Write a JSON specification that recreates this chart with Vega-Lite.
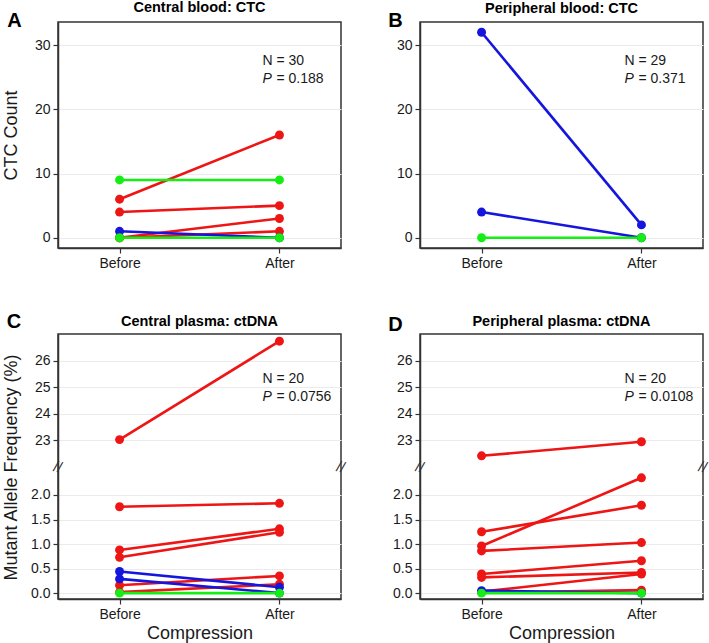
{
  "$schema": "https://vega.github.io/schema/vega-lite/v6.json",
  "padding": {"left": 1, "top": -1, "right": 0, "bottom": 0},
  "columns": 2,
  "align": "each",
  "bounds": "flush",
  "spacing": {"row": 86, "column": 79},
  "config": {
    "font": "Liberation Sans",
    "view": {"stroke": "#333333", "strokeWidth": 1.5},
    "axis": {"labelFont": "Liberation Sans", "labelFontSize": 14, "labelColor": "#1a1a1a", "tickColor": "#333333", "tickSize": 5, "tickWidth": 1.2, "domainColor": "#333333", "domainWidth": 1.5, "gridColor": "#ebebeb", "gridWidth": 1, "titleFont": "Liberation Sans", "titleFontWeight": "normal", "titleFontSize": 18, "titleColor": "#1a1a1a", "labelPadding": 3, "titlePadding": 14},
    "title": {"font": "Liberation Sans", "fontSize": 14.5, "fontWeight": "bold", "color": "#000000", "baseline": "alphabetic", "frame": "group"},
    "text": {"font": "Liberation Sans", "fontSize": 14, "color": "#1a1a1a"}
  },
  "datasets": {
    "A": [
      {"id": "a1", "time": "Before", "value": 6, "change": "increase"}, {"id": "a1", "time": "After", "value": 16, "change": "increase"},
      {"id": "a2", "time": "Before", "value": 4, "change": "increase"}, {"id": "a2", "time": "After", "value": 5, "change": "increase"},
      {"id": "a3", "time": "Before", "value": 0, "change": "increase"}, {"id": "a3", "time": "After", "value": 3, "change": "increase"},
      {"id": "a4", "time": "Before", "value": 0, "change": "increase"}, {"id": "a4", "time": "After", "value": 1, "change": "increase"},
      {"id": "a5", "time": "Before", "value": 1, "change": "decrease"}, {"id": "a5", "time": "After", "value": 0, "change": "decrease"},
      {"id": "a6", "time": "Before", "value": 9, "change": "no change"}, {"id": "a6", "time": "After", "value": 9, "change": "no change"},
      {"id": "a7", "time": "Before", "value": 0, "change": "no change"}, {"id": "a7", "time": "After", "value": 0, "change": "no change"}
    ],
    "B": [
      {"id": "b1", "time": "Before", "value": 32, "change": "decrease"}, {"id": "b1", "time": "After", "value": 2, "change": "decrease"},
      {"id": "b2", "time": "Before", "value": 4, "change": "decrease"}, {"id": "b2", "time": "After", "value": 0, "change": "decrease"},
      {"id": "b3", "time": "Before", "value": 0, "change": "no change"}, {"id": "b3", "time": "After", "value": 0, "change": "no change"}
    ],
    "Cu": [
      {"id": "c1", "time": "Before", "value": 23.03, "change": "increase"}, {"id": "c1", "time": "After", "value": 26.73, "change": "increase"}
    ],
    "Cl": [
      {"id": "c2", "time": "Before", "value": 1.76, "change": "increase"}, {"id": "c2", "time": "After", "value": 1.83, "change": "increase"},
      {"id": "c3", "time": "Before", "value": 0.88, "change": "increase"}, {"id": "c3", "time": "After", "value": 1.31, "change": "increase"},
      {"id": "c4", "time": "Before", "value": 0.73, "change": "increase"}, {"id": "c4", "time": "After", "value": 1.24, "change": "increase"},
      {"id": "c5", "time": "Before", "value": 0.16, "change": "increase"}, {"id": "c5", "time": "After", "value": 0.35, "change": "increase"},
      {"id": "c6", "time": "Before", "value": 0.02, "change": "increase"}, {"id": "c6", "time": "After", "value": 0.18, "change": "increase"},
      {"id": "c7", "time": "Before", "value": 0.44, "change": "decrease"}, {"id": "c7", "time": "After", "value": 0.12, "change": "decrease"},
      {"id": "c8", "time": "Before", "value": 0.29, "change": "decrease"}, {"id": "c8", "time": "After", "value": 0.0, "change": "decrease"},
      {"id": "c9", "time": "Before", "value": 0.0, "change": "no change"}, {"id": "c9", "time": "After", "value": 0.0, "change": "no change"}
    ],
    "Du": [
      {"id": "d1", "time": "Before", "value": 22.42, "change": "increase"}, {"id": "d1", "time": "After", "value": 22.95, "change": "increase"}
    ],
    "Dl": [
      {"id": "d2", "time": "Before", "value": 0.96, "change": "increase"}, {"id": "d2", "time": "After", "value": 2.35, "change": "increase"},
      {"id": "d3", "time": "Before", "value": 1.25, "change": "increase"}, {"id": "d3", "time": "After", "value": 1.79, "change": "increase"},
      {"id": "d4", "time": "Before", "value": 0.86, "change": "increase"}, {"id": "d4", "time": "After", "value": 1.03, "change": "increase"},
      {"id": "d5", "time": "Before", "value": 0.39, "change": "increase"}, {"id": "d5", "time": "After", "value": 0.66, "change": "increase"},
      {"id": "d6", "time": "Before", "value": 0.32, "change": "increase"}, {"id": "d6", "time": "After", "value": 0.42, "change": "increase"},
      {"id": "d7", "time": "Before", "value": 0.03, "change": "increase"}, {"id": "d7", "time": "After", "value": 0.39, "change": "increase"},
      {"id": "d8", "time": "Before", "value": 0.01, "change": "increase"}, {"id": "d8", "time": "After", "value": 0.06, "change": "increase"},
      {"id": "d9", "time": "Before", "value": 0.05, "change": "decrease"}, {"id": "d9", "time": "After", "value": 0.0, "change": "decrease"},
      {"id": "d10", "time": "Before", "value": 0.0, "change": "no change"}, {"id": "d10", "time": "After", "value": 0.0, "change": "no change"}
    ]
  },
  "concat": [
    {
      "width": 283, "height": 226,
      "title": {"text": "Central blood: CTC", "offset": -5},
      "layer": [
        {
          "data": {"name": "A"},
          "encoding": {
            "x": {"field": "time", "type": "nominal", "scale": {"type": "point", "domain": ["Before", "After"], "padding": 0.385}, "axis": {"title": null, "labelAngle": 0}},
            "y": {"field": "value", "type": "quantitative", "scale": {"domain": [-1.6, 33.6], "nice": false, "zero": false}, "axis": {"values": [0, 10, 20, 30], "title": "CTC Count", "grid": true}},
            "color": {"field": "change", "type": "nominal", "scale": {"domain": ["increase", "decrease", "no change"], "range": ["#EE1515", "#1515DD", "#15EE15"]}, "legend": null},
            "detail": {"field": "id", "type": "nominal"}
          },
          "layer": [
            {"mark": {"type": "line", "strokeWidth": 2.6}},
            {"mark": {"type": "point", "filled": true, "size": 80, "opacity": 1}}
          ]
        },
        {
          "data": {"values": [{}]},
          "layer": [
            {"mark": {"type": "text", "text": "N = 30", "align": "left", "baseline": "middle", "dx": -17}, "encoding": {"x": {"datum": "After"}, "y": {"datum": 27.5}}},
            {"mark": {"type": "text", "text": "P", "fontStyle": "italic", "align": "left", "baseline": "middle", "dx": -17}, "encoding": {"x": {"datum": "After"}, "y": {"datum": 24.8}}},
            {"mark": {"type": "text", "text": "= 0.188", "align": "left", "baseline": "middle", "dx": -3}, "encoding": {"x": {"datum": "After"}, "y": {"datum": 24.8}}},
            {"mark": {"type": "text", "text": "A", "fontSize": 20, "fontWeight": "bold", "color": "#000000", "align": "center", "baseline": "middle", "dx": -105, "dy": -1.5}, "encoding": {"x": {"datum": "Before"}, "y": {"datum": 33.6}}}
          ]
        }
      ]
    },
    {
      "width": 283, "height": 226,
      "title": {"text": "Peripheral blood: CTC", "offset": -5},
      "layer": [
        {
          "data": {"name": "B"},
          "encoding": {
            "x": {"field": "time", "type": "nominal", "scale": {"type": "point", "domain": ["Before", "After"], "padding": 0.385}, "axis": {"title": null, "labelAngle": 0}},
            "y": {"field": "value", "type": "quantitative", "scale": {"domain": [-1.6, 33.6], "nice": false, "zero": false}, "axis": {"values": [0, 10, 20, 30], "title": null, "grid": true}},
            "color": {"field": "change", "type": "nominal", "scale": {"domain": ["increase", "decrease", "no change"], "range": ["#EE1515", "#1515DD", "#15EE15"]}, "legend": null},
            "detail": {"field": "id", "type": "nominal"}
          },
          "layer": [
            {"mark": {"type": "line", "strokeWidth": 2.6}},
            {"mark": {"type": "point", "filled": true, "size": 80, "opacity": 1}}
          ]
        },
        {
          "data": {"values": [{}]},
          "layer": [
            {"mark": {"type": "text", "text": "N = 29", "align": "left", "baseline": "middle", "dx": -17}, "encoding": {"x": {"datum": "After"}, "y": {"datum": 27.5}}},
            {"mark": {"type": "text", "text": "P", "fontStyle": "italic", "align": "left", "baseline": "middle", "dx": -17}, "encoding": {"x": {"datum": "After"}, "y": {"datum": 24.8}}},
            {"mark": {"type": "text", "text": "= 0.371", "align": "left", "baseline": "middle", "dx": -3}, "encoding": {"x": {"datum": "After"}, "y": {"datum": 24.8}}},
            {"mark": {"type": "text", "text": "B", "fontSize": 20, "fontWeight": "bold", "color": "#000000", "align": "center", "baseline": "middle", "dx": -86, "dy": -1}, "encoding": {"x": {"datum": "Before"}, "y": {"datum": 33.6}}}
          ]
        }
      ]
    },
    {
      "width": 283, "height": 265,
      "title": {"text": "Central plasma: ctDNA", "offset": -18.3},
      "resolve": {"scale": {"y": "independent"}, "axis": {"y": "independent"}},
      "layer": [
        {
          "layer": [
            {
              "data": {"name": "Cu"},
              "encoding": {
                "x": {"field": "time", "type": "nominal", "scale": {"type": "point", "domain": ["Before", "After"], "padding": 0.385}, "axis": {"title": "Compression", "labelAngle": 0, "titlePadding": 3}},
                "y": {"field": "value", "type": "quantitative", "scale": {"domain": [22, 27], "range": [133, 0], "nice": false, "zero": false}, "axis": {"orient": "left", "values": [23, 24, 25, 26], "title": "Mutant Allele Frequency (%)", "titleY": 133, "grid": true}},
                "color": {"field": "change", "type": "nominal", "scale": {"domain": ["increase", "decrease", "no change"], "range": ["#EE1515", "#1515DD", "#15EE15"]}, "legend": null},
                "detail": {"field": "id", "type": "nominal"}
              },
              "layer": [
                {"mark": {"type": "line", "strokeWidth": 2.6}},
                {"mark": {"type": "point", "filled": true, "size": 80, "opacity": 1}}
              ]
            },
            {
              "data": {"values": [{}]},
              "layer": [
                {"mark": {"type": "text", "text": "N = 20", "align": "left", "baseline": "middle", "dx": -17}, "encoding": {"x": {"datum": "After"}, "y": {"datum": 25.31}}},
                {"mark": {"type": "text", "text": "P", "fontStyle": "italic", "align": "left", "baseline": "middle", "dx": -17}, "encoding": {"x": {"datum": "After"}, "y": {"datum": 24.62}}},
                {"mark": {"type": "text", "text": "= 0.0756", "align": "left", "baseline": "middle", "dx": -3}, "encoding": {"x": {"datum": "After"}, "y": {"datum": 24.62}}},
                {"mark": {"type": "text", "text": "C", "fontSize": 20, "fontWeight": "bold", "color": "#000000", "align": "center", "baseline": "middle", "dx": -105.5, "dy": -12.5}, "encoding": {"x": {"datum": "Before"}, "y": {"datum": 27}}},
                {"mark": {"type": "text", "text": "//", "fontSize": 15, "color": "#333333", "align": "center", "baseline": "middle", "angle": 15, "dx": -59.6, "dy": 16.0}, "encoding": {"x": {"datum": "Before"}, "y": {"datum": 22}}},
                {"mark": {"type": "text", "text": "//", "fontSize": 15, "color": "#333333", "align": "center", "baseline": "middle", "angle": 15, "dx": 59.2, "dy": -15.9}, "encoding": {"x": {"datum": "After"}, "y": {"datum": 22}}}
              ]
            }
          ]
        },
        {
          "data": {"name": "Cl"},
          "encoding": {
            "x": {"field": "time", "type": "nominal", "scale": {"type": "point", "domain": ["Before", "After"], "padding": 0.385}, "axis": {"title": "Compression", "labelAngle": 0, "titlePadding": 3}},
            "y": {"field": "value", "type": "quantitative", "scale": {"domain": [-0.12, 2.57], "range": [265, 133], "nice": false, "zero": false}, "axis": {"orient": "left", "values": [0, 0.5, 1, 1.5, 2], "format": ".1f", "title": null, "grid": true}},
            "color": {"field": "change", "type": "nominal", "scale": {"domain": ["increase", "decrease", "no change"], "range": ["#EE1515", "#1515DD", "#15EE15"]}, "legend": null},
            "detail": {"field": "id", "type": "nominal"}
          },
          "layer": [
            {"mark": {"type": "line", "strokeWidth": 2.6}},
            {"mark": {"type": "point", "filled": true, "size": 80, "opacity": 1}}
          ]
        }
      ]
    },
    {
      "width": 283, "height": 265,
      "title": {"text": "Peripheral plasma: ctDNA", "offset": -14.5},
      "resolve": {"scale": {"y": "independent"}, "axis": {"y": "independent"}},
      "layer": [
        {
          "layer": [
            {
              "data": {"name": "Du"},
              "encoding": {
                "x": {"field": "time", "type": "nominal", "scale": {"type": "point", "domain": ["Before", "After"], "padding": 0.385}, "axis": {"title": "Compression", "labelAngle": 0, "titlePadding": 3}},
                "y": {"field": "value", "type": "quantitative", "scale": {"domain": [22, 27], "range": [133, 0], "nice": false, "zero": false}, "axis": {"orient": "left", "values": [23, 24, 25, 26], "title": null, "grid": true}},
                "color": {"field": "change", "type": "nominal", "scale": {"domain": ["increase", "decrease", "no change"], "range": ["#EE1515", "#1515DD", "#15EE15"]}, "legend": null},
                "detail": {"field": "id", "type": "nominal"}
              },
              "layer": [
                {"mark": {"type": "line", "strokeWidth": 2.6}},
                {"mark": {"type": "point", "filled": true, "size": 80, "opacity": 1}}
              ]
            },
            {
              "data": {"values": [{}]},
              "layer": [
                {"mark": {"type": "text", "text": "N = 20", "align": "left", "baseline": "middle", "dx": -17}, "encoding": {"x": {"datum": "After"}, "y": {"datum": 25.31}}},
                {"mark": {"type": "text", "text": "P", "fontStyle": "italic", "align": "left", "baseline": "middle", "dx": -17}, "encoding": {"x": {"datum": "After"}, "y": {"datum": 24.62}}},
                {"mark": {"type": "text", "text": "= 0.0108", "align": "left", "baseline": "middle", "dx": -3}, "encoding": {"x": {"datum": "After"}, "y": {"datum": 24.62}}},
                {"mark": {"type": "text", "text": "D", "fontSize": 20, "fontWeight": "bold", "color": "#000000", "align": "center", "baseline": "middle", "dx": -86, "dy": -9}, "encoding": {"x": {"datum": "Before"}, "y": {"datum": 27}}},
                {"mark": {"type": "text", "text": "//", "fontSize": 15, "color": "#333333", "align": "center", "baseline": "middle", "angle": 15, "dx": -59.6, "dy": 16.0}, "encoding": {"x": {"datum": "Before"}, "y": {"datum": 22}}},
                {"mark": {"type": "text", "text": "//", "fontSize": 15, "color": "#333333", "align": "center", "baseline": "middle", "angle": 15, "dx": 59.2, "dy": -15.9}, "encoding": {"x": {"datum": "After"}, "y": {"datum": 22}}}
              ]
            }
          ]
        },
        {
          "data": {"name": "Dl"},
          "encoding": {
            "x": {"field": "time", "type": "nominal", "scale": {"type": "point", "domain": ["Before", "After"], "padding": 0.385}, "axis": {"title": "Compression", "labelAngle": 0, "titlePadding": 3}},
            "y": {"field": "value", "type": "quantitative", "scale": {"domain": [-0.12, 2.57], "range": [265, 133], "nice": false, "zero": false}, "axis": {"orient": "left", "values": [0, 0.5, 1, 1.5, 2], "format": ".1f", "title": null, "grid": true}},
            "color": {"field": "change", "type": "nominal", "scale": {"domain": ["increase", "decrease", "no change"], "range": ["#EE1515", "#1515DD", "#15EE15"]}, "legend": null},
            "detail": {"field": "id", "type": "nominal"}
          },
          "layer": [
            {"mark": {"type": "line", "strokeWidth": 2.6}},
            {"mark": {"type": "point", "filled": true, "size": 80, "opacity": 1}}
          ]
        }
      ]
    }
  ]
}
